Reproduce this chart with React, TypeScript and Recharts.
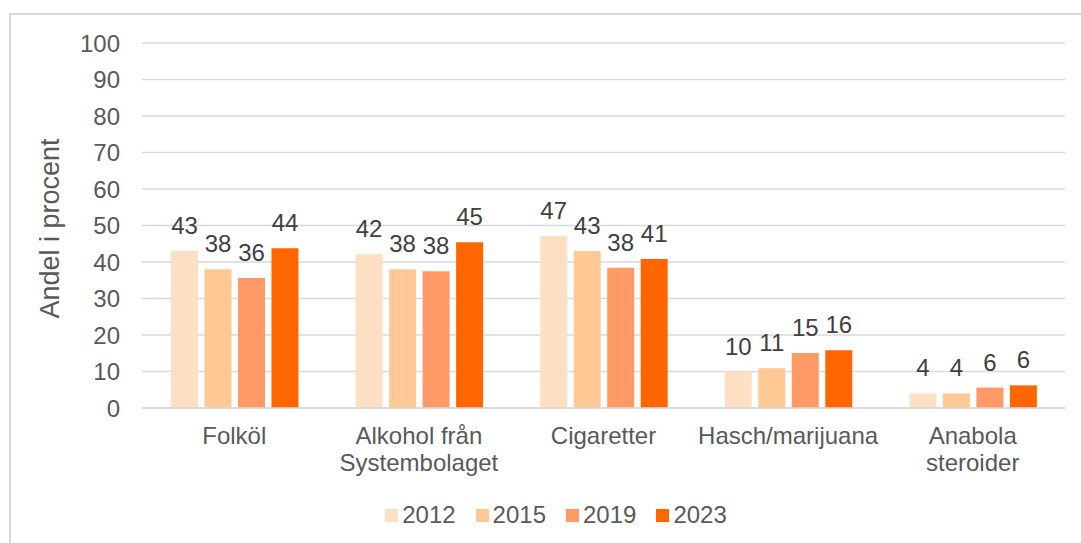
import { BarChart, Bar, XAxis, YAxis, CartesianGrid, Legend, LabelList, Label } from "recharts"

const categories = ["Folköl", "Alkohol från\nSystembolaget", "Cigaretter", "Hasch/marijuana", "Anabola\nsteroider"]
const years = ["2012", "2015", "2019", "2023"]
const values2012 = [43, 42.1, 47.1, 10, 4]
const values2015 = [38, 38, 43, 10.9, 4]
const values2019 = [35.6, 37.5, 38.4, 15.1, 5.6]
const values2023 = [43.8, 45.4, 40.8, 15.8, 6.2]
const yTicks = [0, 10, 20, 30, 40, 50, 60, 70, 80, 90, 100]
const colors = ["#FDDFC4", "#FFC894", "#FF9966", "#FF6600"]

const data = categories.map((name, i) => ({
  name,
  y2012: values2012[i],
  y2015: values2015[i],
  y2019: values2019[i],
  y2023: values2023[i],
}))

const FONT = "'Liberation Sans', Arial, sans-serif"
const TEXT = "#595959"
const FS = 24

const CategoryTick = ({ x, y, payload }: any) => {
  const lines = String(payload.value).split("\n")
  return (
    <text x={x} y={y + 34} textAnchor="middle" fill={TEXT} fontSize={FS} fontFamily={FONT}>
      {lines.map((line, i) => (
        <tspan key={i} x={x} dy={i === 0 ? 0 : 27}>
          {line}
        </tspan>
      ))}
    </text>
  )
}

const YLabel = ({ viewBox }: any) => {
  const cy = viewBox.y + viewBox.height / 2 + 3
  return (
    <text
      x={50}
      y={cy}
      transform={`rotate(-90, 50, ${cy})`}
      textAnchor="middle"
      dominantBaseline="central"
      fill={TEXT}
      fontSize={27}
      fontFamily={FONT}
    >
      Andel i procent
    </text>
  )
}

const renderLegend = () => (
  <div style={{ display: "flex", justifyContent: "center", fontFamily: FONT, fontSize: FS, color: TEXT, lineHeight: "30px" }}>
    {years.map((yr, i) => (
      <div key={yr} style={{ display: "flex", alignItems: "center", marginRight: i < years.length - 1 ? 20 : 0 }}>
        <span style={{ width: 13, height: 13, background: colors[i], display: "inline-block", marginRight: 4 }} />
        <span>{yr}</span>
      </div>
    ))}
  </div>
)

export default function App() {
  return (
    <div style={{ position: "absolute", left: 0, top: 0, width: 1081, height: 543, background: "#fff" }}>
      <div
        style={{
          position: "absolute",
          left: 9,
          top: 13,
          width: 1072,
          height: 530,
          boxSizing: "border-box",
          borderLeft: "2px solid #d9d9d9",
          borderTop: "2px solid #d9d9d9",
        }}
      />
      <BarChart
        width={1081}
        height={543}
        data={data}
        margin={{ top: 43, right: 16, left: 0, bottom: 25 }}
        barSize={27}
        barGap={6.5}
        style={{ fontFamily: FONT, position: "absolute", left: 0, top: 0 }}
      >
        <CartesianGrid vertical={false} stroke="#d9d9d9" strokeWidth={1.5} />
        <XAxis
          dataKey="name"
          interval={0}
          tickLine={false}
          tickSize={0}
          axisLine={{ stroke: "#d9d9d9", strokeWidth: 1.5 }}
          height={80}
          tick={<CategoryTick />}
        />
        <YAxis
          width={142}
          domain={[0, 100]}
          ticks={yTicks}
          interval={0}
          axisLine={false}
          tickLine={false}
          tickSize={0}
          tickMargin={22}
          tick={{ fill: TEXT, fontSize: FS, fontFamily: FONT }}
        >
          <Label content={<YLabel />} />
        </YAxis>
        <Legend content={renderLegend} wrapperStyle={{ top: 500, left: 31, width: 1050, height: 30 }} />
        {years.map((yr, i) => (
          <Bar key={yr} dataKey={`y${yr}`} name={yr} fill={colors[i]} isAnimationActive={false}>
            <LabelList
              dataKey={`y${yr}`}
              position="top"
              offset={17}
              formatter={(v: any) => Math.round(Number(v))}
              fill="#404040"
              fontSize={FS}
              fontFamily={FONT}
            />
          </Bar>
        ))}
      </BarChart>
    </div>
  )
}
